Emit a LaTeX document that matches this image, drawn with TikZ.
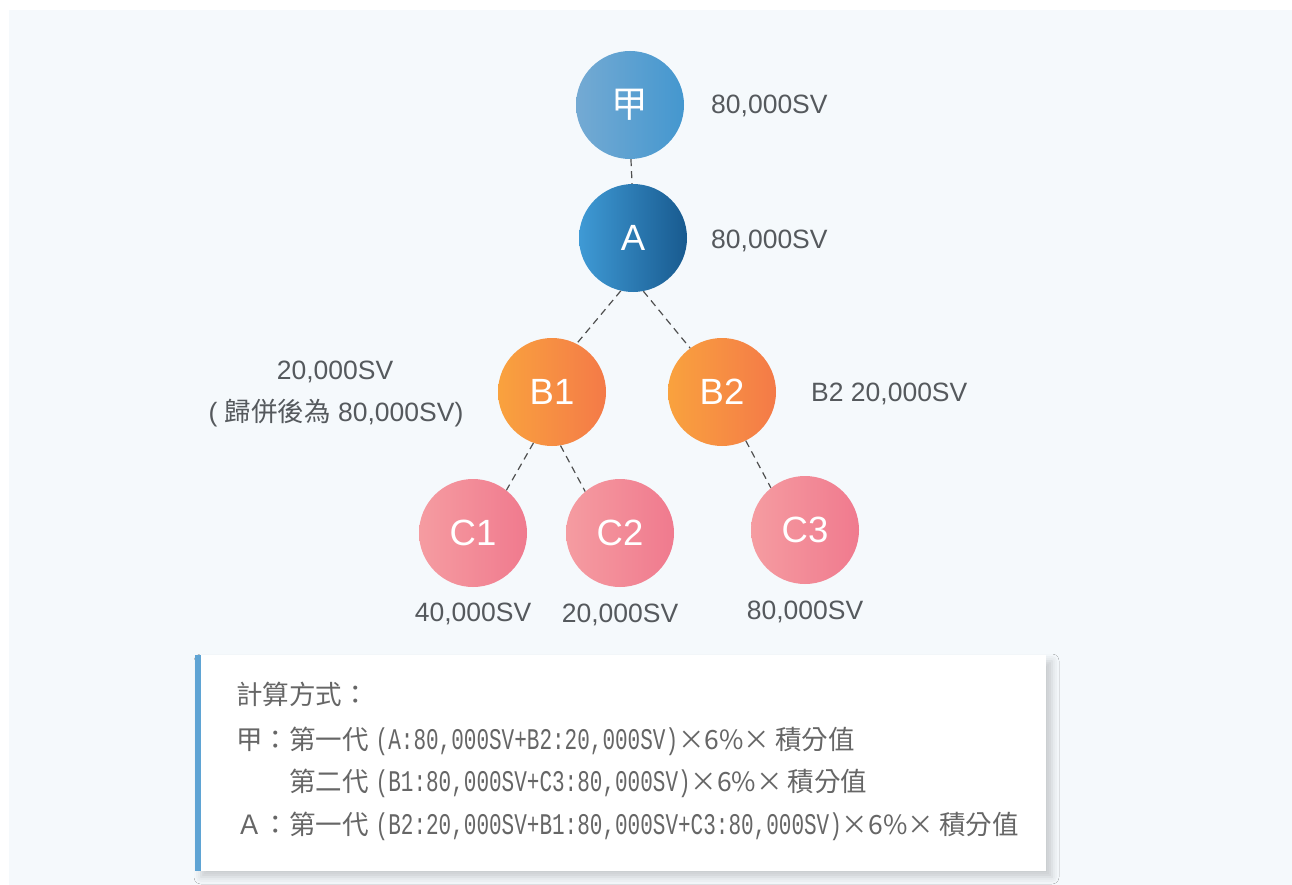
\documentclass[tikz,border=0pt]{standalone}
\usepackage{fontspec}
\setmainfont{Liberation Sans}
\newfontfamily\cjk{Noto Sans CJK TC}
\newfontfamily\monof[FakeStretch=0.7]{Liberation Mono}
\usetikzlibrary{shadows.blur}
\definecolor{panelbg}{HTML}{F5F9FC}
\definecolor{txt}{HTML}{55595D}
\definecolor{linec}{HTML}{4F4F4F}
\definecolor{jiaL}{HTML}{74AAD3}
\definecolor{jiaR}{HTML}{4497CF}
\definecolor{aL}{HTML}{3F9AD5}
\definecolor{aR}{HTML}{185A8F}
\definecolor{bL}{HTML}{F9A23E}
\definecolor{bR}{HTML}{F47A48}
\definecolor{cL}{HTML}{F59CA1}
\definecolor{cR}{HTML}{F07A8E}
\definecolor{barc}{HTML}{5FA4D4}
\definecolor{boxtxt}{HTML}{666666}
\newcommand\monotxt[1]{{\monof\fontsize{30}{32}\selectfont #1}}
\begin{document}
\begin{tikzpicture}[x=1pt,y=-1pt,
  circ/.style={circle,minimum size=108pt,inner sep=0pt,text=white,font=\fontsize{36.5}{40}\selectfont},
  lbl/.style={text=txt,font=\fontsize{26.5}{30}\selectfont,inner sep=0pt},
  btxt/.style={text=boxtxt,font=\fontsize{26.5}{30}\selectfont\cjk,inner sep=0pt,anchor=base west},
  conn/.style={draw=linec,line width=1.2pt,dash pattern=on 7pt off 5pt}]
\useasboundingbox (0,0) rectangle (1292,885);
\fill[white] (0,0) rectangle (1292,885);
\fill[panelbg] (9,10) rectangle (1292,885);

% tree nodes
\node[circ,left color=jiaL,right color=jiaR] (jia) at (630,105) {\cjk 甲};
\node[circ,left color=aL,right color=aR] (A) at (633,238) {A};
\node[circ,left color=bL,right color=bR] (B1) at (552,392) {B1};
\node[circ,left color=bL,right color=bR] (B2) at (722,392) {B2};
\node[circ,left color=cL,right color=cR] (C1) at (473,533) {C1};
\node[circ,left color=cL,right color=cR] (C2) at (620,533) {C2};
\node[circ,left color=cL,right color=cR] (C3) at (805,530) {C3};

% connectors
\draw[conn] (jia.271) -- (A.91);
\draw[conn] (A.257) -- (B1.63);
\draw[conn] (A.281) -- (B2.126);
\draw[conn] (B1.250) -- (C1.52);
\draw[conn] (B1.279) -- (C2.130);
\draw[conn] (B2.296) -- (C3.129);

% value labels
\node[lbl,anchor=base west] (ljia) at (711,114) {80,000SV};
\node[lbl,anchor=base west] (lA) at (711,249) {80,000SV};
\node[lbl,anchor=base] (lB1a) at (335,379) {20,000SV};
\node[lbl,anchor=base] (lB1b) at (336,421) {( {\cjk 歸併後為} 80,000SV)};
\node[lbl,anchor=base west] (lB2) at (811,401) {B2 20,000SV};
\node[lbl,anchor=base] (lC1) at (473,621) {40,000SV};
\node[lbl,anchor=base] (lC2) at (620,622) {20,000SV};
\node[lbl,anchor=base] (lC3) at (805,619) {80,000SV};

% formula box
\fill[white,blur shadow={shadow xshift=6pt,shadow yshift=-6pt,shadow blur radius=7pt,shadow opacity=18}] (195,655) rectangle (1046,871);
\fill[barc] (195,655) rectangle (201,871);
\node[btxt] (t1) at (236,704) {計算方式：};
\node[btxt] (t2) at (236,749) {甲：第一代\hspace{7pt}\monotxt{(A:80,000SV+B2:20,000SV)}×6\%×\hspace{5pt}積分值};
\node[btxt] (t3) at (289,791) {第二代\hspace{7pt}\monotxt{(B1:80,000SV+C3:80,000SV)}×6\%×\hspace{5pt}積分值};
\node[btxt] (t4) at (236,834) {Ａ：第一代\hspace{7pt}\monotxt{(B2:20,000SV+B1:80,000SV+C3:80,000SV)}×6\%×\hspace{5pt}積分值};
\end{tikzpicture}
\end{document}
